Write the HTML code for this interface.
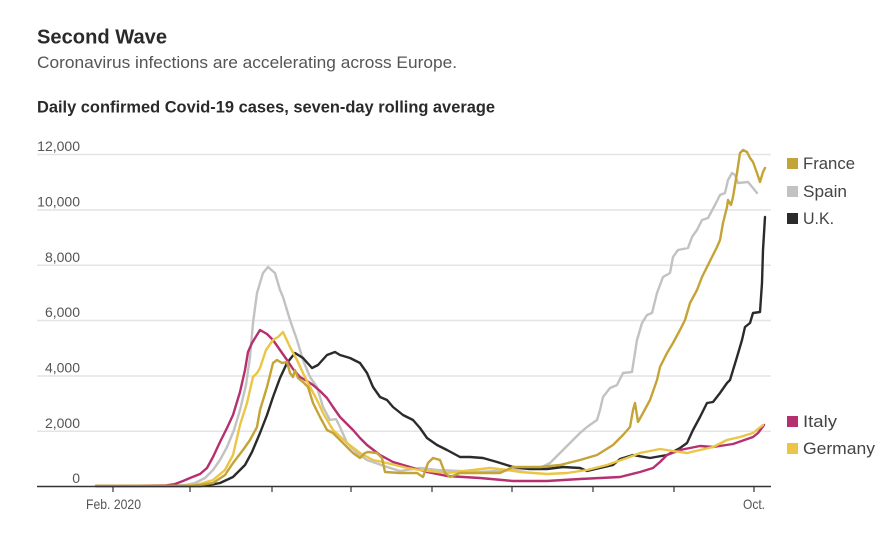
<!DOCTYPE html>
<html><head><meta charset="utf-8">
<style>
html,body{margin:0;padding:0;background:#fff;}
svg{display:block;}
text{font-family:"Liberation Sans",sans-serif;}
</style></head>
<body>
<svg width="895" height="560" viewBox="0 0 895 560" xmlns="http://www.w3.org/2000/svg">
<rect width="895" height="560" fill="#fff"/>
<text x="37" y="43.5" font-size="20" font-weight="bold" fill="#2a2a2a" textLength="130" lengthAdjust="spacingAndGlyphs">Second Wave</text>
<text x="37" y="68" font-size="17" fill="#555" textLength="420" lengthAdjust="spacingAndGlyphs">Coronavirus infections are accelerating across Europe.</text>
<text x="37" y="112.5" font-size="17" font-weight="bold" fill="#2a2a2a" textLength="458" lengthAdjust="spacingAndGlyphs">Daily confirmed Covid-19 cases, seven-day rolling average</text>

<g stroke="#e4e4e4" stroke-width="1.5">
<line x1="37" y1="154.5" x2="771" y2="154.5"/>
<line x1="37" y1="210" x2="771" y2="210"/>
<line x1="37" y1="265.3" x2="771" y2="265.3"/>
<line x1="37" y1="320.5" x2="771" y2="320.5"/>
<line x1="37" y1="376" x2="771" y2="376"/>
<line x1="37" y1="431.3" x2="771" y2="431.3"/>
</g>
<g font-size="14" fill="#555" text-anchor="end">
<text x="80" y="151">12,000</text>
<text x="80" y="206.5">10,000</text>
<text x="80" y="262">8,000</text>
<text x="80" y="317">6,000</text>
<text x="80" y="372.5">4,000</text>
<text x="80" y="428">2,000</text>
<text x="80" y="483">0</text>
</g>

<g fill="none" stroke-width="2.4" stroke-linejoin="round" stroke-linecap="round">
<path stroke="#c2c2c2" d="M96,486 L170,486 L185,485 L195,483 L205,478 L213,470 L220,460 L227,447 L234,430 L240,410 L246,385 L250,357 L253,323 L257,293 L263,273 L268,267 L275,273 L280,290 L283,297 L290,320 L297,340 L303,360 L310,377 L317,387 L323,407 L330,420 L336,419 L340,427 L347,443 L357,453 L367,460 L387,467 L400,471 L420,468 L437,470 L480,472 L513,470 L540,468 L550,463 L560,453 L570,443 L580,433 L587,427 L597,420 L600,410 L603,397 L610,388 L617,385 L623,373 L632,372 L637,340 L642,323 L647,315 L652,313 L657,293 L663,277 L670,273 L673,257 L678,250 L688,248 L692,237 L697,230 L702,220 L708,218 L715,205 L720,195 L725,193 L728,180 L732,173 L735,175 L738,183 L748,182 L753,188 L757,193"/>
<path stroke="#2b2b2b" d="M96,486 L200,486 L207,485.5 L220,483 L233,477 L245,465 L252,452 L260,433 L267,415 L273,397 L280,378 L287,363 L295,353 L303,358 L312,368 L318,365 L327,355 L335,352 L340,355 L350,358 L360,363 L367,373 L373,387 L380,397 L387,400 L393,407 L403,415 L413,420 L420,428 L427,438 L437,445 L447,450 L460,457 L470,457 L483,458 L497,462 L513,467 L530,469 L547,469 L563,467 L580,468 L587,471 L600,468 L613,465 L620,459 L633,455 L650,458 L667,455 L680,448 L687,443 L693,430 L700,417 L707,403 L713,402 L720,393 L727,383 L730,380 L737,357 L742,340 L745,327 L750,323 L753,313 L760,312 L762,283 L763,250 L765,217"/>
<path stroke="#b5306f" d="M96,486 L165,485.5 L175,484 L183,481 L190,478 L200,474 L207,468 L213,457 L220,442 L227,428 L233,415 L240,392 L245,370 L248,352 L252,343 L260,330 L267,334 L273,340 L280,350 L287,360 L293,369 L300,377 L307,381 L313,385 L320,391 L327,398 L333,407 L340,417 L347,424 L353,430 L360,438 L367,445 L380,455 L393,462 L410,467 L427,472 L447,476 L480,478 L513,481 L547,481 L580,479 L600,478 L620,477 L640,472 L653,468 L660,462 L667,455 L680,450 L700,446 L713,447 L733,444 L753,437 L758,433 L764,425"/>
<path stroke="#ebc545" d="M96,486 L185,486 L200,484 L213,480 L225,470 L233,455 L240,425 L247,403 L253,377 L257,373 L260,368 L266,350 L273,340 L278,337 L283,332 L290,347 L297,360 L303,373 L310,387 L317,400 L323,413 L333,430 L347,443 L360,453 L373,460 L387,463 L407,468 L420,470 L447,473 L473,470 L490,468 L507,470 L520,472 L547,474 L567,473 L587,470 L607,465 L627,458 L640,453 L660,449 L673,451 L687,453 L700,450 L713,447 L727,440 L740,437 L753,433 L763,425"/>
<path stroke="#c4a437" d="M96,486 L190,486 L200,485 L213,483 L225,475 L233,463 L243,450 L250,440 L257,427 L260,410 L267,387 L273,363 L277,360 L282,363 L287,362 L290,373 L293,377 L295,370 L298,378 L303,382 L308,387 L313,403 L320,417 L327,430 L333,433 L340,440 L347,447 L353,453 L360,458 L365,453 L368,452 L377,453 L382,458 L385,472 L400,473 L417,473 L423,477 L428,463 L433,458 L440,460 L445,473 L450,477 L460,473 L500,473 L513,467 L540,467 L560,465 L580,460 L597,455 L613,445 L623,435 L630,427 L633,410 L635,403 L638,422 L643,413 L650,400 L657,380 L660,367 L667,353 L673,343 L680,330 L685,320 L690,303 L697,290 L702,277 L707,267 L712,257 L717,247 L720,240 L723,223 L727,207 L728,200 L731,205 L733,197 L737,173 L740,153 L743,150 L747,152 L750,158 L753,162 L757,173 L760,182 L763,172 L765,168"/>
</g>

<line x1="37" y1="486.5" x2="771" y2="486.5" stroke="#333" stroke-width="1.5"/>
<g stroke="#333" stroke-width="1.2">
<line x1="113" y1="486.5" x2="113" y2="492"/>
<line x1="190" y1="486.5" x2="190" y2="492"/>
<line x1="272" y1="486.5" x2="272" y2="492"/>
<line x1="351" y1="486.5" x2="351" y2="492"/>
<line x1="432" y1="486.5" x2="432" y2="492"/>
<line x1="512" y1="486.5" x2="512" y2="492"/>
<line x1="593" y1="486.5" x2="593" y2="492"/>
<line x1="674" y1="486.5" x2="674" y2="492"/>
<line x1="754" y1="486.5" x2="754" y2="492"/>
</g>
<text x="86" y="509" font-size="14" fill="#555" textLength="55" lengthAdjust="spacingAndGlyphs">Feb. 2020</text>
<text x="743" y="509" font-size="14" fill="#555" textLength="22" lengthAdjust="spacingAndGlyphs">Oct.</text>

<g font-size="17" fill="#444">
<rect x="787" y="158" width="11" height="11" fill="#c4a437"/>
<text x="803" y="169" textLength="52" lengthAdjust="spacingAndGlyphs">France</text>
<rect x="787" y="186" width="11" height="11" fill="#c2c2c2"/>
<text x="803" y="197" textLength="44" lengthAdjust="spacingAndGlyphs">Spain</text>
<rect x="787" y="213" width="11" height="11" fill="#2b2b2b"/>
<text x="803" y="224" textLength="31" lengthAdjust="spacingAndGlyphs">U.K.</text>
<rect x="787" y="416" width="11" height="11" fill="#b5306f"/>
<text x="803" y="427" textLength="34" lengthAdjust="spacingAndGlyphs">Italy</text>
<rect x="787" y="443" width="11" height="11" fill="#ebc545"/>
<text x="803" y="454" textLength="72" lengthAdjust="spacingAndGlyphs">Germany</text>
</g>
</svg>
</body></html>
